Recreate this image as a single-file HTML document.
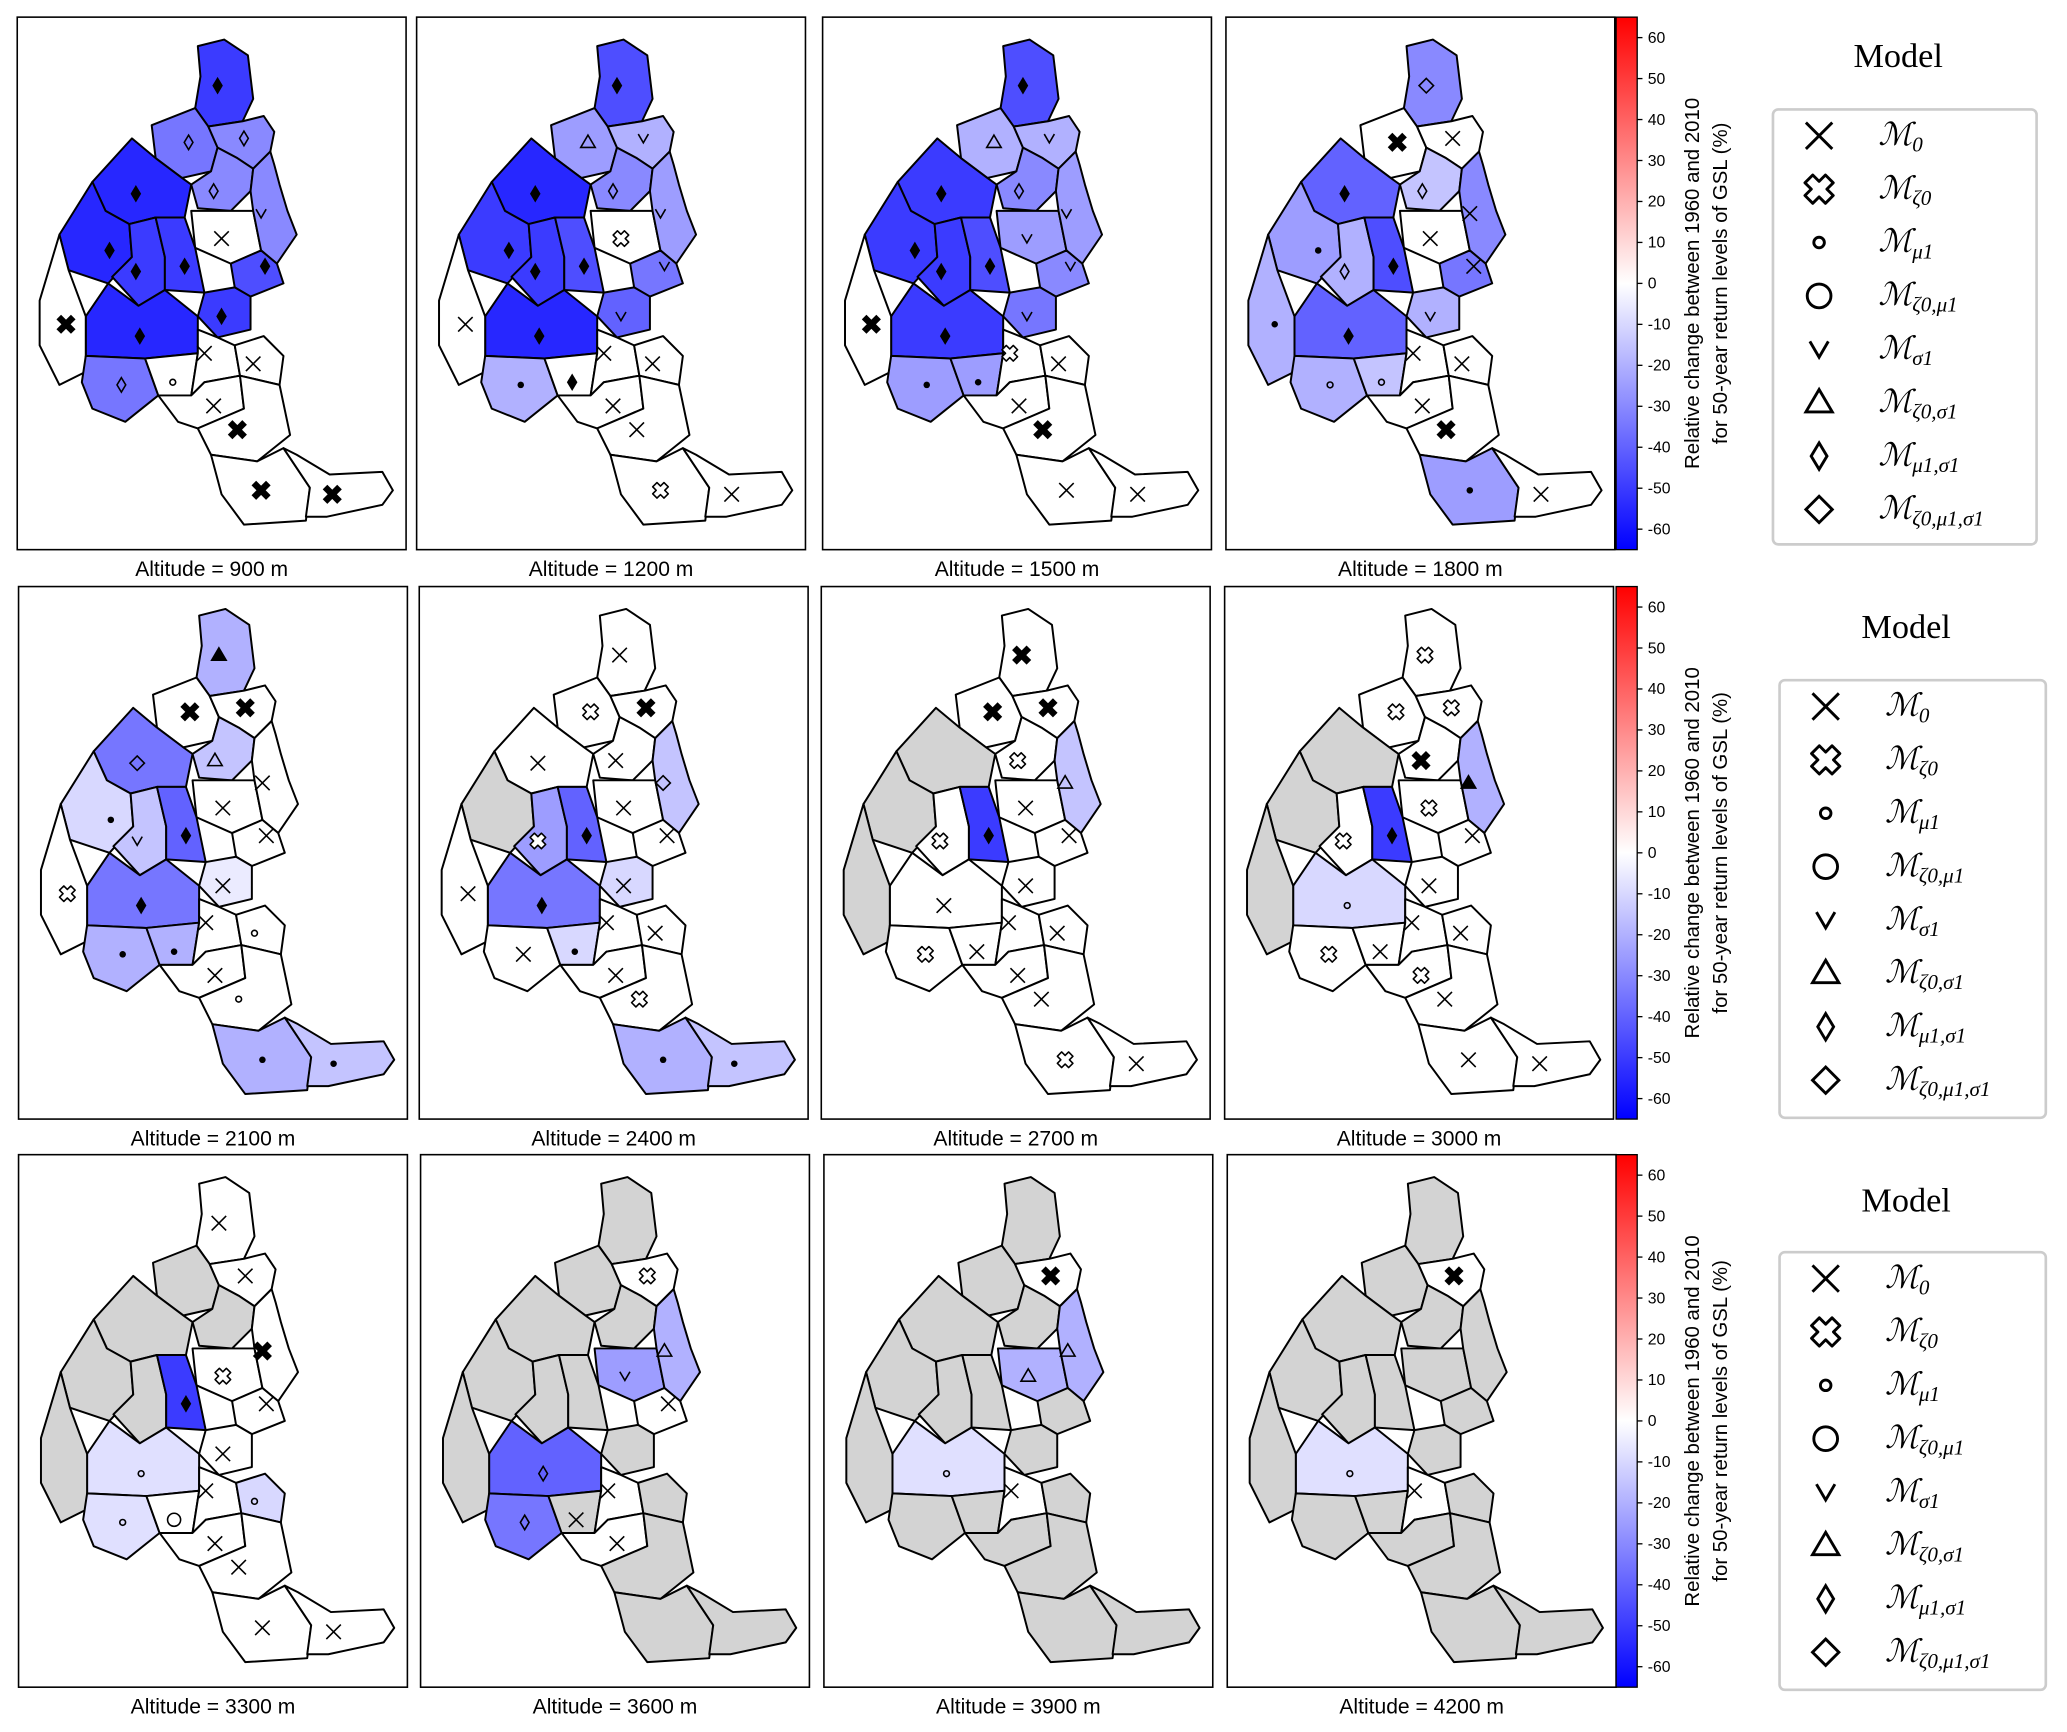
<!DOCTYPE html>
<html><head><meta charset="utf-8"><style>
html,body{margin:0;padding:0;background:#fff}
svg{display:block}
text{font-family:"Liberation Sans",sans-serif}
.serif{font-family:"Liberation Serif","DejaVu Serif",serif}
</style></head><body>
<svg id="fig" width="2067" height="1732" viewBox="0 0 1568 1314" xmlns="http://www.w3.org/2000/svg">
<defs>
<linearGradient id="bwr" x1="0" y1="1" x2="0" y2="0">
<stop offset="0" stop-color="#0000ff"/><stop offset="0.5" stop-color="#ffffff"/><stop offset="1" stop-color="#ff0000"/>
</linearGradient>
</defs>
</svg>
<script>
const altitudes=[900,1200,1500,1800,2100,2400,2700,3000,3300,3600,3900,4200];
const N=null;
const v900 =[-50,-35,-30,-30,0,-30,-55,-55,-50,-50,-45,-50,-55,0,-35,0,0,0,0,0,0,0];
const v1200=[-45,-25,-20,-30,0,-25,-55,-50,-50,-45,-35,-40,-55,0,-20,0,0,0,0,0,0,0];
const v1500=[-45,-20,-20,-30,-25,-25,-50,-50,-50,-45,-30,-35,-50,0,-25,-25,0,0,0,0,0,0];
const v1800=[-30,0,0,-15,0,-30,-40,-25,-20,-45,-35,-20,-40,-20,-20,-15,0,0,0,0,-25,0];
const v2100=[-20,0,0,-15,0,0,-35,-10,-15,-40,0,-5,-35,0,-20,-20,0,0,0,0,-20,-15];
const v2400=[0,0,0,0,0,-15,0,N,-25,-40,0,-10,-35,0,0,-10,0,0,0,0,-20,-15];
const v2700=[0,0,0,0,0,-15,N,N,0,-50,0,0,0,N,0,0,0,0,0,0,0,0];
const v3000=[0,0,0,0,0,-20,N,N,0,-50,0,0,-10,N,0,0,0,0,0,0,0,0];
const v3300=[0,N,0,N,0,0,N,N,N,-50,0,0,-8,N,-8,0,0,-10,0,0,0,0];
const v3600=[N,N,0,N,-25,-20,N,N,N,N,0,N,-40,N,-35,N,0,N,0,N,N,N];
const v3900=[N,N,0,N,-20,-20,N,N,N,N,N,N,-8,N,N,N,0,N,N,N,N,N];
const v4200=[N,N,0,N,N,N,N,N,N,N,N,N,-8,N,N,N,0,N,N,N,N,N];
const values=[v900,v1200,v1500,v1800,v2100,v2400,v2700,v3000,v3300,v3600,v3900,v4200];
const m900 ="D d d d x v D D D D D D D X d o x x x X X X";
const m1200="D t v d P v D D D D v v D x c D x x x x P x";
const m1500="D t v d v v D D D D v v D X c c P x x X x x";
const m1800="Q X x d x x D c d D x v D c o o x x x X c x";
const m2100="T X X t x x Q c v D x x D P c c x o x o c c";
const m2400="x P X x x Q x - P D x x D x x c x x x P c c";
const m2700="X X X P x t - - P D x x x - P x x x x x P x";
const m3000="P P P X P T - - P D x x o - P x x x P x x x";
const m3300="x - x - P X - - - D x x o - o O x o x x x x";
const m3600="- - P - v t - - - - x - d - d x x - x - - -";
const m3900="- - X - t t - - - - - - o - - - x - - - - -";
const m4200="- - X - - - - - - - - - o - - - x - - - - -";
const markers=[m900,m1200,m1500,m1800,m2100,m2400,m2700,m3000,m3300,m3600,m3900,m4200].map(s=>s.split(' '));
const cbTicks=[60,50,40,30,20,10,0,-10,-20,-30,-40,-50,-60];

const polys=[
"150,35 170,30 188,42 192,75 184,92 158,96 148,82 152,58",
"115,95 148,82 158,96 165,112 160,130 138,135 118,120",
"184,92 200,88 208,100 205,115 192,128 180,120 165,112 158,96",
"160,130 165,112 180,120 192,128 190,145 175,160 150,158 145,140",
"145,160 175,160 192,160 198,190 175,200 148,188",
"192,128 205,115 208,125 212,140 218,160 225,178 210,200 198,190 192,160 190,145",
"70,138 100,105 118,120 138,135 145,140 140,165 118,165 98,170 80,160",
"45,178 70,138 80,160 98,170 100,195 82,215 52,205",
"98,170 118,165 125,195 125,220 105,232 85,210 100,195",
"118,165 140,165 148,188 155,222 125,220 125,195",
"175,200 198,190 210,200 215,215 190,225 178,218",
"155,222 178,218 190,225 190,250 165,256 150,240",
"65,240 82,215 105,232 125,220 150,240 150,268 110,272 65,270",
"30,228 45,178 52,205 65,240 65,282 45,292 30,262",
"65,270 110,272 120,300 95,320 70,310 62,290",
"110,272 150,268 145,300 120,300",
"150,250 165,256 178,262 182,285 155,290 145,300 150,268",
"178,262 200,255 215,270 212,292 182,285",
"120,300 145,300 155,290 182,285 185,310 150,325 135,320",
"150,325 185,310 182,285 212,292 220,330 195,350 160,345",
"160,345 195,350 215,340 235,370 232,395 185,398 168,375",
"215,340 225,345 250,360 290,358 298,372 290,383 248,392 232,392 235,370"];
const mpos=[[165,65],[143,108],[185,105],[162,145],[168,181],[198,162],[103,147],[83,190],[103,206],[140,202],[201,202],[168,240],[106,255],[50,246],[92,292],[131,290],[155,268],[192,276],[162,308],[180,326],[198,372],[252,375]];

const rowsY=[13,445,876];
const colsX=[[13,316,624,930],[14,318,623,929],[14,319,625,931]];
const PW=295,PH=404;
const NS="http://www.w3.org/2000/svg";
const svg=document.getElementById('fig');
function el(t,a,p){const e=document.createElementNS(NS,t);for(const k in a)e.setAttribute(k,a[k]);(p||svg).appendChild(e);return e;}
function color(v){if(v===null)return '#d3d3d3';const t=Math.max(-1,Math.min(1,v/65));
 if(t<0){const c=Math.round(255*(1+t));return `rgb(${c},${c},255)`;}const c=Math.round(255*(1-t));return `rgb(255,${c},${c})`;}
function crossPts(x,y,s){
 const w=s*0.38,L=s;
 const base=[[-w,-L],[w,-L],[w,-w],[L,-w],[L,w],[w,w],[w,L],[-w,L],[-w,w],[-L,w],[-L,-w],[-w,-w]];
 const c=Math.SQRT1_2;
 return base.map(([a,b])=>[(x+(a-b)*c).toFixed(2),(y+(a+b)*c).toFixed(2)].join(',')).join(' ');
}
function marker(g,code,x,y,s){
 const st={fill:'none',stroke:'#000','stroke-width':1.2};
 let e;
 if(code==='x'){e=el('path',Object.assign({d:`M${x-s} ${y-s}L${x+s} ${y+s}M${x-s} ${y+s}L${x+s} ${y-s}`},st),g);}
 else if(code==='X'){e=el('path',{d:`M${x-s} ${y-s}L${x+s} ${y+s}M${x-s} ${y+s}L${x+s} ${y-s}`,stroke:'#000','stroke-width':s*0.9,fill:'none'},g);}
 else if(code==='P'){e=el('polygon',{points:crossPts(x,y,s*1.1),fill:'#fff',stroke:'#000','stroke-width':1.2,'stroke-linejoin':'round'},g);}
 else if(code==='o'){e=el('circle',Object.assign({cx:x,cy:y,r:s*0.4},st),g);}
 else if(code==='c'){e=el('circle',{cx:x,cy:y,r:s*0.45,fill:'#000'},g);}
 else if(code==='O'){e=el('circle',Object.assign({cx:x,cy:y,r:s*0.9},st),g);}
 else if(code==='v'){e=el('path',Object.assign({d:`M${x-s*0.7} ${y-s*0.6}L${x} ${y+s*0.6}L${x+s*0.7} ${y-s*0.6}`},st),g);}
 else if(code==='t'||code==='T'){e=el('path',{d:`M${x} ${y-s}L${x+s} ${y+s*0.7}L${x-s} ${y+s*0.7}Z`,fill:code==='T'?'#000':'none',stroke:'#000','stroke-width':1.2},g);}
 else if(code==='d'||code==='D'){e=el('path',{d:`M${x} ${y-s}L${x+s*0.6} ${y}L${x} ${y+s}L${x-s*0.6} ${y}Z`,fill:code==='D'?'#000':'none',stroke:'#000','stroke-width':1.2},g);}
 else if(code==='Q'){e=el('path',Object.assign({d:`M${x} ${y-s}L${x+s} ${y}L${x} ${y+s}L${x-s} ${y}Z`},st),g);}
 return e;
}
for(let i=0;i<12;i++){
 const r=Math.floor(i/4),c=i%4;const px=colsX[r][c],py=rowsY[r];
 const panel=el('g',{});
 
 
 el('rect',{x:px,y:py,width:PW,height:PH,fill:'#fff',stroke:'#000','stroke-width':1.2},panel);
 const mg=el('g',{transform:`translate(${px-13},${py-13})`},panel);
 for(let k=0;k<polys.length;k++){
  const p=el('polygon',{points:polys[k],fill:color(values[i][k]),stroke:'#000','stroke-width':1.5,'stroke-linejoin':'round'},mg);
  
  
 }
 for(let k=0;k<polys.length;k++){
  const code=markers[i][k];if(code&&code!=='-'){const m=marker(mg,code,mpos[k][0],mpos[k][1],5.5);
   if(m){}}
 }
 const t=el('text',{x:px+PW/2,y:py+PH+20,'text-anchor':'middle','font-size':16},panel);
 t.textContent='Altitude = '+altitudes[i]+' m';
 
 
}
const legTitleY=[42,475,910],legBox=[[1345,83,200,330],[1350,516,202,332],[1350,950,202,332]];
const subs=['0','ζ0','μ1','ζ0,μ1','σ1','ζ0,σ1','μ1,σ1','ζ0,μ1,σ1'];
const lcodes=['x','P','o','O','v','t','d','Q'];
for(let r=0;r<3;r++){
 const y0=rowsY[r],x0=1226,h=PH;
 const cb=el('g',{});
 
 
 el('rect',{x:x0,y:y0,width:16,height:h,fill:'url(#bwr)',stroke:'#000','stroke-width':1},cb);
 const ys=v=>y0+h/2-v/65*(h/2);
 for(const tv of cbTicks){
  el('line',{x1:x0+16,x2:x0+20,y1:ys(tv),y2:ys(tv),stroke:'#000','stroke-width':1},cb);
  const tt=el('text',{x:x0+24,y:ys(tv)+4,'font-size':12},cb);tt.textContent=String(tv);
 }
 const l1=el('text',{x:0,y:0,'font-size':15.5,'text-anchor':'middle',transform:`translate(1289,${y0+h/2}) rotate(-90)`},cb);
 l1.textContent='Relative change between 1960 and 2010';
 const l2=el('text',{x:0,y:0,'font-size':15.5,'text-anchor':'middle',transform:`translate(1310,${y0+h/2}) rotate(-90)`},cb);
 l2.textContent='for 50-year return levels of GSL (%)';
 const lg=el('g',{});
 
 
 const tl=el('text',{x:legBox[r][0]+legBox[r][2]/2-5,y:legTitleY[r]+9,'font-size':26,'text-anchor':'middle',class:'serif'},lg);tl.textContent='Model';
 const b=legBox[r];
 el('rect',{x:b[0],y:b[1],width:b[2],height:b[3],rx:4,fill:'#fff',stroke:'#ccc','stroke-width':2},lg);
 for(let k=0;k<8;k++){
  const yy=b[1]+20+k*40.5;const mx=b[0]+35;
  const m=marker(lg,lcodes[k],mx,yy,10);
  m.setAttribute('stroke-width',2.2);
  const tx=el('text',{x:b[0]+80,y:yy+7,'font-size':24,class:'serif','font-style':'italic'},lg);
  tx.textContent='ℳ';
  const ts=el('tspan',{'font-size':16,dy:5},tx);ts.textContent=subs[k];
 }
}
</script>
</body></html>
